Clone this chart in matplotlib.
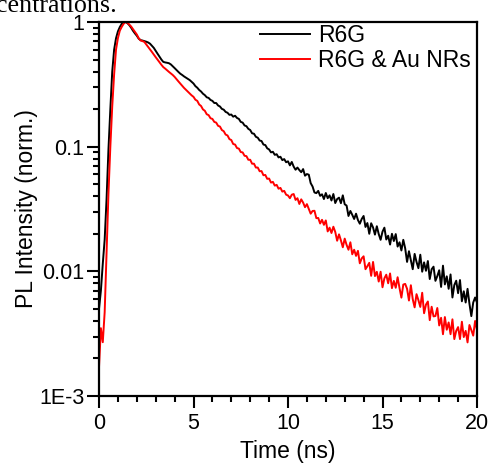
import numpy as np
import matplotlib
matplotlib.use("Agg")
import matplotlib.pyplot as plt
from matplotlib.ticker import LogLocator, MultipleLocator, NullFormatter

plt.rcParams['font.family'] = ['Liberation Sans', 'DejaVu Sans']

# ---- data ----
time_ns = np.linspace(0.0, 20.0, 201)

r6g = [
    0.005, 0.007, 0.0115, 0.018, 0.038, 0.095, 0.20, 0.40, 0.60, 0.74,
    0.84, 0.91, 0.966, 0.995, 1.0, 0.98, 0.945, 0.90, 0.85, 0.81,
    0.776, 0.735, 0.715, 0.71, 0.703, 0.695, 0.685, 0.67, 0.645, 0.62,
    0.586, 0.556, 0.527, 0.50, 0.479, 0.474, 0.471, 0.467, 0.457, 0.442,
    0.427, 0.412, 0.398, 0.385, 0.376, 0.366, 0.358, 0.35, 0.342, 0.331,
    0.321, 0.306, 0.297, 0.285, 0.277, 0.266, 0.259, 0.249, 0.246, 0.237,
    0.233, 0.224, 0.224, 0.214, 0.210, 0.201, 0.198, 0.190, 0.187, 0.180,
    0.181, 0.174, 0.177, 0.170, 0.167, 0.158, 0.156, 0.148, 0.146, 0.139,
    0.136, 0.128, 0.127, 0.120, 0.118, 0.112, 0.111, 0.104, 0.103, 0.097,
    0.095, 0.090, 0.091, 0.086, 0.087, 0.082, 0.083, 0.078, 0.0795, 0.075,
    0.0763, 0.0708, 0.0754, 0.0692, 0.0653, 0.0680, 0.0649, 0.0624, 0.0661, 0.0585,
    0.0603, 0.0596, 0.0510, 0.0479, 0.0429, 0.0424, 0.0442, 0.0403, 0.0415, 0.0380,
    0.0425, 0.0386, 0.0407, 0.0370, 0.0417, 0.0353, 0.0380, 0.0390, 0.0352, 0.0407,
    0.0345, 0.0337, 0.0278, 0.0305, 0.0284, 0.0263, 0.0290, 0.0258, 0.0241, 0.0263,
    0.0278, 0.0227, 0.0244, 0.0200, 0.0243, 0.0225, 0.0197, 0.0230, 0.0199, 0.0179,
    0.0208, 0.0224, 0.0180, 0.0193, 0.0164, 0.0200, 0.0175, 0.0199, 0.0158, 0.0171,
    0.0147, 0.0179, 0.0153, 0.0119, 0.0145, 0.0123, 0.0104, 0.0138, 0.0119, 0.0106,
    0.0136, 0.00993, 0.0118, 0.0101, 0.0121, 0.00867, 0.0104, 0.0109, 0.00839, 0.00916,
    0.0102, 0.00750, 0.0111, 0.00785, 0.00912, 0.00724, 0.00944, 0.00617, 0.00776, 0.00841,
    0.00668, 0.00851, 0.00575, 0.00692, 0.00562, 0.00724, 0.00550, 0.00437, 0.00562, 0.00617,
    0.00562,
]

r6g_au = [
    0.0017, 0.0035, 0.0027, 0.0047, 0.014, 0.042, 0.10, 0.21, 0.38, 0.60,
    0.741, 0.851, 0.912, 0.966, 1.0, 0.989, 0.955, 0.92, 0.875, 0.83,
    0.794, 0.741, 0.711, 0.703, 0.692, 0.661, 0.631, 0.603, 0.575, 0.547,
    0.522, 0.499, 0.476, 0.454, 0.435, 0.423, 0.41, 0.398, 0.387, 0.376,
    0.363, 0.348, 0.334, 0.321, 0.308, 0.296, 0.286, 0.276, 0.267, 0.258,
    0.251, 0.238, 0.233, 0.218, 0.212, 0.199, 0.194, 0.182, 0.179, 0.169,
    0.167, 0.158, 0.156, 0.147, 0.145, 0.136, 0.133, 0.125, 0.123, 0.115,
    0.113, 0.105, 0.104, 0.0975, 0.0965, 0.0905, 0.0900, 0.0845, 0.0840, 0.0785,
    0.0785, 0.0730, 0.0730, 0.0680, 0.0680, 0.0635, 0.0637, 0.0590, 0.0593, 0.0552,
    0.0555, 0.0515, 0.0522, 0.0487, 0.0494, 0.0460, 0.0467, 0.0436, 0.0442, 0.0412,
    0.0406, 0.0386, 0.0412, 0.0417, 0.0374, 0.0386, 0.0347, 0.0378, 0.0356, 0.0327,
    0.0346, 0.0316, 0.0290, 0.0305, 0.0306, 0.0267, 0.0268, 0.0242, 0.0259, 0.0236,
    0.0256, 0.0209, 0.0224, 0.0203, 0.0228, 0.0207, 0.0176, 0.0198, 0.0177, 0.0156,
    0.0183, 0.0163, 0.0149, 0.0171, 0.0137, 0.0149, 0.0133, 0.0146, 0.0116, 0.0127,
    0.0132, 0.0104, 0.0110, 0.0117, 0.00920, 0.0119, 0.00916, 0.00991, 0.00828, 0.00993,
    0.00745, 0.00879, 0.00940, 0.00802, 0.00962, 0.00733, 0.00838, 0.00738, 0.00897, 0.00735,
    0.00615, 0.00783, 0.00793, 0.00724, 0.00583, 0.00774, 0.00598, 0.00514, 0.00656, 0.00587,
    0.00518, 0.00673, 0.00461, 0.00541, 0.00573, 0.00406, 0.00520, 0.00435, 0.00438, 0.00508,
    0.00368, 0.00424, 0.00313, 0.00430, 0.00340, 0.00389, 0.00313, 0.00412, 0.00286, 0.00333,
    0.00357, 0.00286, 0.00394, 0.00297, 0.00333, 0.00269, 0.00371, 0.00338, 0.00305, 0.00400,
    0.00339,
]

series_labels = ["R6G", "R6G & Au NRs"]
series_colors = ["black", "red"]
xtick_vals = [0, 5, 10, 15, 20]
ytick_vals = [1e-3, 1e-2, 1e-1, 1]
ytick_labels = ["1E-3", "0.01", "0.1", "1"]

# ---- figure ----
W, H = 492, 463
fig = plt.figure(figsize=(W / 100, H / 100), dpi=100)
ax = fig.add_axes([99 / W, 1 - 396 / H, 378 / W, 374 / H])

ax.plot(time_ns, r6g, color=series_colors[0], lw=1.4, label=series_labels[0])
ax.plot(time_ns, r6g_au, color=series_colors[1], lw=1.4, label=series_labels[1])

ax.set_yscale('log')
ax.set_xlim(0, 20)
ax.set_ylim(1e-3, 1)
ax.set_yticks(ytick_vals)
ax.set_yticklabels(ytick_labels)
ax.yaxis.set_minor_locator(LogLocator(base=10, subs=np.arange(2, 10)))
ax.yaxis.set_minor_formatter(NullFormatter())
ax.set_xticks(xtick_vals)
ax.xaxis.set_minor_locator(MultipleLocator(1))

ax.tick_params(which='major', direction='out', length=8.5, width=1.5,
               labelsize=15.5, top=False, right=False)
ax.tick_params(axis='y', which='major', pad=2)
ax.tick_params(axis='x', which='major', pad=4)
ax.tick_params(which='minor', direction='out', length=4.5, width=1.5,
               top=False, right=False)
for s in ax.spines.values():
    s.set_linewidth(1.6)

ax.set_xlabel('Time (ns)', fontsize=16.5, labelpad=4)
ax.set_ylabel('PL Intensity (norm.)', fontsize=16.5, labelpad=1)

fig.legend(loc='upper left', bbox_to_anchor=(260 / W, 1 - 24 / H),
           bbox_transform=fig.transFigure, frameon=False, borderpad=0,
           borderaxespad=0, handlelength=2.2, handletextpad=0.33,
           labelspacing=0.1, fontsize=16.5)

# cropped caption text from the source page
fig.text(-4 / W, 1 - 12 / H, 'centrations.', family=['Liberation Serif', 'DejaVu Serif'],
         fontsize=18.7, va='baseline', ha='left')

fig.savefig('out.png', dpi=100)
